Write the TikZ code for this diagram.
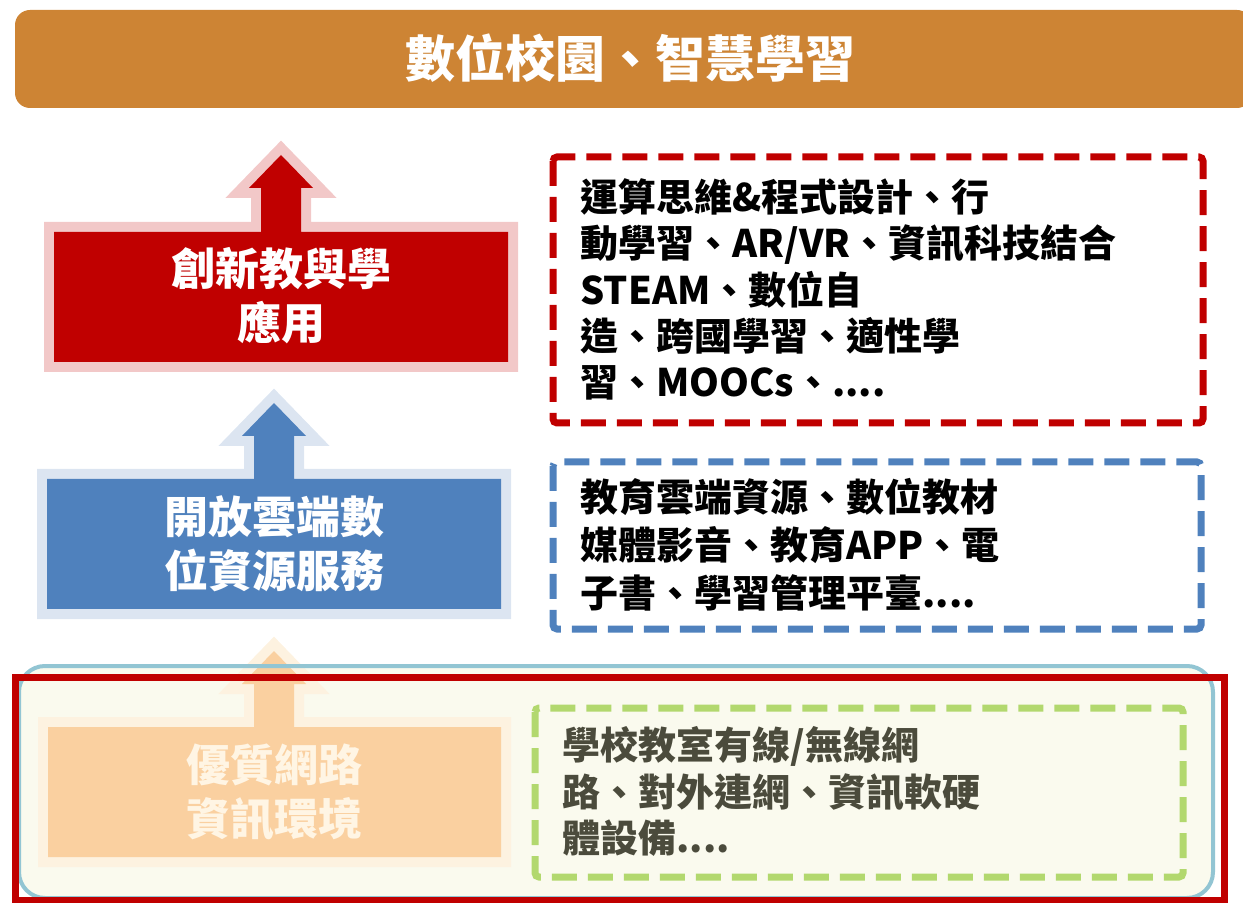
\documentclass[tikz,border=0pt]{standalone}
\usepackage{fontspec}
\usepackage{xcolor}
\newfontfamily\cjk{Noto Sans CJK TC}

\definecolor{titre}{RGB}{205,132,52}
\definecolor{rougeF}{RGB}{192,0,0}
\definecolor{rougeC}{RGB}{242,200,200}
\definecolor{bleuF}{RGB}{79,129,189}
\definecolor{bleuC}{RGB}{220,229,241}
\definecolor{orangeF}{RGB}{250,208,160}
\definecolor{orangeC}{RGB}{253,242,224}
\definecolor{creme}{RGB}{250,250,238}
\definecolor{cadre}{RGB}{146,197,211}
\definecolor{vert}{RGB}{178,216,110}
\definecolor{gris}{RGB}{75,75,60}

\begin{document}
\begin{tikzpicture}[x=0.5pt,y=-0.5pt,
    pointille/.style={line width=3.5pt, dash pattern=on 12.5pt off 5.5pt, rounded corners=2pt},
    etiquette/.style={align=center, inner sep=0, font=\cjk\bfseries\fontsize{22}{27}\selectfont},
    liste/.style={anchor=west, align=left, inner sep=0, font=\cjk\bfseries\fontsize{19}{23.2}\selectfont}]
      \useasboundingbox (0,0) rectangle (1243,903);

      % Titre
      \fill[titre, rounded corners=7.5pt] (15,10) rectangle (1252,108);
      \node[inner sep=0, text=white, font=\cjk\bfseries\fontsize{25}{30}\selectfont] (titre) at (630,58) {數位校園、智慧學習};

      % Fond du bas
      \fill[creme, rounded corners=13pt] (19,666) rectangle (1213,898);

      % Blocs
      \foreach \xa/\ya/\xb/\yb/\cx/\ty/\fonce/\clair in {54/232/508/362/281/155/rougeF/rougeC,
          47/479/501/609/274/403/bleuF/bleuC, 48/727/501/857/274/651/orangeF/orangeC}{
        \def\forme{(\xa,\ya) -- ({\cx-20},\ya) -- ({\cx-20},{\ty+33}) -- ({\cx-32},{\ty+33})
          -- (\cx,\ty) -- ({\cx+32},{\ty+33}) -- ({\cx+20},{\ty+33}) -- ({\cx+20},\ya)
          -- (\xb,\ya) -- (\xb,\yb) -- (\xa,\yb) -- cycle}
        \draw[fill=\clair, draw=\clair, line width=10pt] \forme;
        \fill[\fonce] \forme;
      }

      \draw[cadre, line width=2pt, rounded corners=13pt] (19,666) rectangle (1213,898);
      \draw[rougeF, line width=3.5pt] (15.5,677) rectangle (1224,900);

      \node[etiquette, text=white] (appli) at (281,296) {創新教與學\\應用};
      \node[etiquette, text=white] (nuage) at (274,544) {開放雲端數\\位資源服務};
      \node[etiquette, text={rgb,255:red,255;green,245;blue,228}] (reseau) at (274,792) {優質網路\\資訊環境};

      % Cadres
      \draw[pointille, rougeF] (553,157) rectangle (1203,423);
      \draw[pointille, bleuF] (553,462) rectangle (1201,629);
      \draw[pointille, vert] (535,708) rectangle (1183,877);

      \node[liste] (exrouge) at (580,289.5) {運算思維\&程式設計、行\\動學習、AR/VR、資訊科技結合\\STEAM、數位自\\造、跨國學習、適性學\\習、MOOCs、....};
      \node[liste, font=\cjk\bfseries\fontsize{19}{24}\selectfont] (exbleu) at (580,545) {教育雲端資源、數位教材\\媒體影音、教育APP、電\\子書、學習管理平臺....};
      \node[liste, text=gris] (exvert) at (562,791.5) {學校教室有線/無線網\\路、對外連網、資訊軟硬\\體設備....};
    \end{tikzpicture}
\end{document}
